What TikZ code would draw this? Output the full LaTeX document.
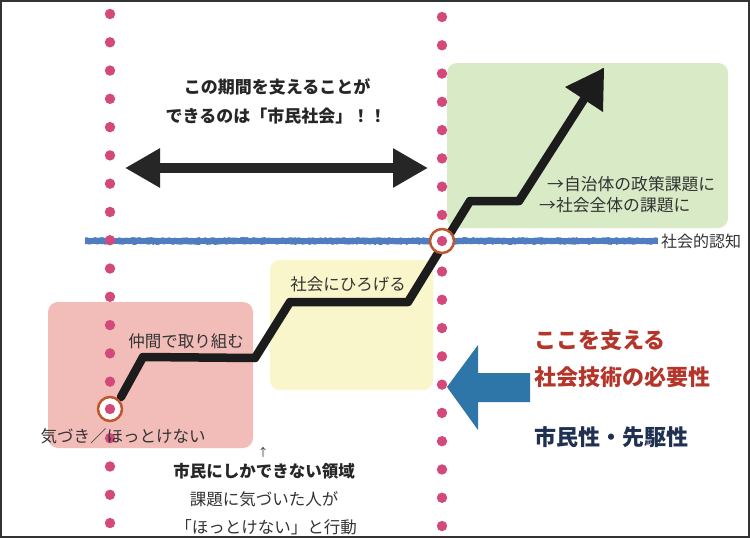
\documentclass[tikz,border=0pt]{standalone}
\usepackage{fontspec}
\setmainfont{Noto Sans CJK JP}
\usetikzlibrary{arrows.meta,decorations.pathmorphing}
\definecolor{dotpink}{HTML}{D4497B}
\definecolor{boxgreen}{HTML}{D8EAC6}
\definecolor{boxpink}{HTML}{F2BDB9}
\definecolor{boxyellow}{HTML}{FAF6CB}
\definecolor{lineblue}{HTML}{4F7DBF}
\definecolor{arrowblue}{HTML}{2E75A8}
\definecolor{txtred}{HTML}{B5352A}
\definecolor{txtnavy}{HTML}{1F3050}
\definecolor{ringorange}{HTML}{C0562F}
\definecolor{txtgray}{HTML}{333333}
\definecolor{chalk}{HTML}{1C1C1C}
\pgfmathsetseed{7}
\tikzset{
  areabox/.style={rectangle, rounded corners=10pt, inner sep=0pt},
  lbl/.style={inner sep=0pt, text=txtgray, font=\fontsize{16.5}{20}\selectfont},
  boldlbl/.style={inner sep=0pt, text=black!85, font=\fontsize{17}{20}\selectfont\bfseries},
  biglbl/.style={inner sep=0pt, anchor=west, font=\fontsize{22}{26}\selectfont\bfseries},
  ring/.style={circle, draw=ringorange, line width=2.5pt, fill=white, minimum size=24pt, inner sep=0pt},
  chalkline/.style={draw=chalk, line width=8.5pt, line join=round, line cap=round},
  roughedge/.style={decorate, decoration={random steps, segment length=2pt, amplitude=0.7pt}},
}
\begin{document}
\begin{tikzpicture}[x=1pt,y=-1pt]
\useasboundingbox (0,0) rectangle (750,538);
\fill[white] (0,0) rectangle (750,538);

% area boxes
\node[areabox, fill=boxgreen, minimum width=281pt, minimum height=165pt] (green) at (587.5,145.5) {};
\node[areabox, fill=boxpink, minimum width=205pt, minimum height=146pt] (pink) at (150.5,375) {};
\node[areabox, fill=boxyellow, minimum width=163pt, minimum height=130pt] (yellow) at (351.5,325) {};

% social recognition line
\coordinate (bl1) at (85,241);
\coordinate (bl2) at (658,241);
\draw[lineblue, line width=5.5pt] (bl1) -- (bl2);
\draw[lineblue, line width=1.2pt, roughedge] ([yshift=-2.6pt]bl1) -- ([yshift=-2.6pt]bl2);
\draw[lineblue, line width=1.2pt, roughedge] ([yshift=2.6pt]bl1) -- ([yshift=2.6pt]bl2);
\node[lbl, anchor=west, font=\fontsize{16}{20}\selectfont] (ninchi) at (661,241) {社会的認知};

% dotted vertical lines
\foreach \i in {0,...,18} {
  \fill[dotpink] (110,14+28.28*\i) circle (5.2pt);
  \fill[dotpink] (442,17+28.28*\i) circle (5.2pt);
}

% double arrow
\coordinate (da1) at (125,168);
\coordinate (da2) at (428,168);
\draw[black!85, line width=10pt, {Triangle[length=35pt,width=37pt]}-{Triangle[length=35pt,width=37pt]}] (da1) -- (da2);

% chalk path
\coordinate (c0) at (121,397);
\coordinate (c1) at (143,357);
\coordinate (c2) at (255,358);
\coordinate (c3) at (290,302);
\coordinate (c4) at (408,302);
\coordinate (c5) at (470,201);
\coordinate (c6) at (519,201);
\coordinate (c7) at (604,68);
\draw[chalkline, shorten >=30pt] (c0) -- (c1) -- (c2) -- (c3) -- (c4) -- (c5) -- (c6) -- (c7);
\draw[draw=chalk, line width=1.5pt, line join=round, roughedge, shorten >=30pt] (c0) -- (c1) -- (c2) -- (c3) -- (c4) -- (c5) -- (c6) -- (c7);
\fill[chalk] (604,68) -- (565,87) -- (603,112) -- cycle;

% rings
\node[ring] (r1) at (110,409) {};
\fill[dotpink] (r1.center) circle (5.2pt);
\node[ring] (r2) at (442,241) {};
\fill[dotpink] (r2.center) circle (5.2pt);

% blue arrow
\fill[arrowblue] (447,387) -- (478,345) -- (478,373) -- (530,373) -- (530,402) -- (478,402) -- (478,430) -- cycle;

% texts
\node[boldlbl] (t1) at (277,87) {この期間を支えることが};
\node[boldlbl] (t2) at (276,116) {できるのは「市民社会」！！};
\node[lbl, anchor=west, font=\fontsize{16.8}{20}\selectfont] (g1) at (547,184) {→自治体の政策課題に};
\node[lbl, anchor=west, font=\fontsize{16.8}{20}\selectfont] (g2) at (539,205) {→社会全体の課題に};
\node[lbl] (y1) at (348,284) {社会にひろげる};
\node[lbl] (p1) at (186,341) {仲間で取り組む};
\node[lbl] (p2) at (123,436) {気づき／ほっとけない};
\node[lbl, font=\fontsize{11}{12}\selectfont] (up) at (263,452) {↑};
\node[boldlbl, font=\fontsize{16.5}{20}\selectfont\bfseries] (b1) at (264,471) {市民にしかできない領域};
\node[lbl] (b2) at (264,499) {課題に気づいた人が};
\node[lbl] (b3) at (266,527) {「ほっとけない」と行動};
\node[biglbl, text=txtred] (r1t) at (534,340) {ここを支える};
\node[biglbl, text=txtred] (r2t) at (534,377) {社会技術の必要性};
\node[biglbl, text=txtnavy] (n1) at (534,437) {市民性・先駆性};

% frame
\draw[black!80, line width=1.5pt] (0.75,0.75) rectangle (748.75,536.75);
\end{tikzpicture}
\end{document}
